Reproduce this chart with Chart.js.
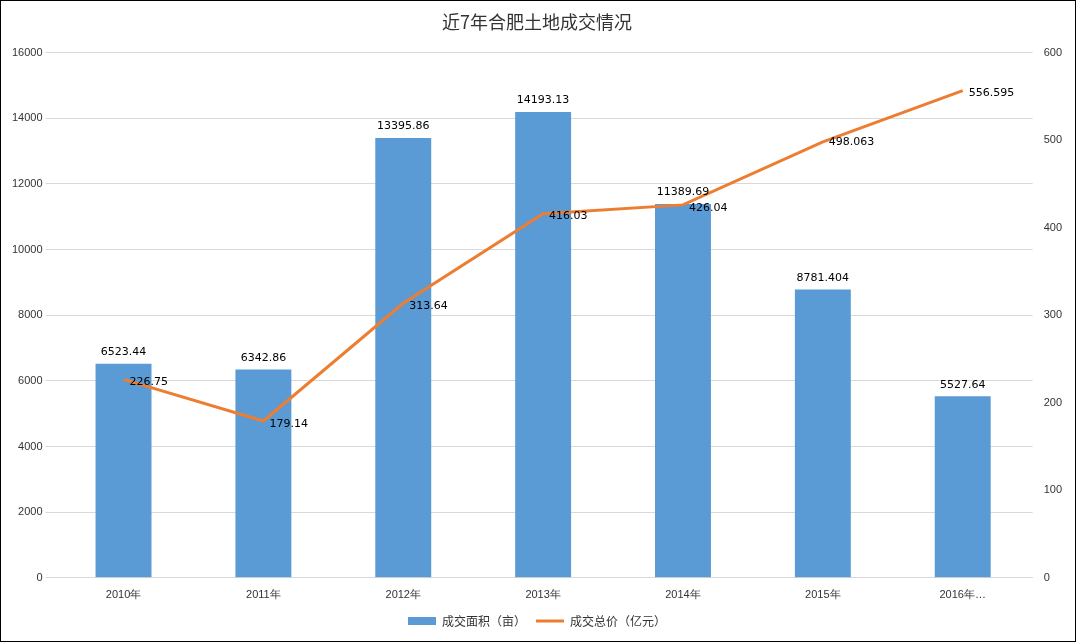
<!DOCTYPE html>
<html><head><meta charset="utf-8">
<script src="https://cdn.jsdelivr.net/npm/chart.js@4"></script>
<style>
body{margin:0;background:#fff}
#box{position:absolute;left:0;top:0;width:1074px;height:640px;border:1px solid #000;}
</style></head>
<body><div id="box"><canvas id="myChart" width="1074" height="640"></canvas></div>
<script>
var years = ["2010年","2011年","2012年","2013年","2014年","2015年","2016年…"];
var area = [6523.44, 6342.86, 13395.86, 14193.13, 11389.69, 8781.404, 5527.64];
var areaText = ["6523.44","6342.86","13395.86","14193.13","11389.69","8781.404","5527.64"];
var price = [226.75, 179.14, 313.64, 416.03, 426.04, 498.063, 556.595];
var priceText = ["226.75","179.14","313.64","416.03","426.04","498.063","556.595"];

var labelPlugin = {
  id: 'labels',
  afterDatasetsDraw: function(chart){
    var c = chart.ctx;
    c.save();
    c.font = '11px "DejaVu Sans", sans-serif';
    c.fillStyle = '#000';
    chart.getDatasetMeta(0).data.forEach(function(b, i){
      c.textAlign = 'center'; c.textBaseline = 'bottom';
      c.fillText(areaText[i], b.x, b.y - 6);
    });
    chart.getDatasetMeta(1).data.forEach(function(p, i){
      c.textAlign = 'left'; c.textBaseline = 'middle';
      c.fillText(priceText[i], p.x + 6, p.y + (i == 5 ? 0 : 3));
    });
    c.restore();
  }
};

new Chart(document.getElementById("myChart"), {
  type: 'bar',
  data: {
    labels: years,
    datasets: [{
      label: '成交面积（亩）',
      data: area,
      backgroundColor: '#5B9BD5',
      yAxisID: 'y',
      barPercentage: 0.4,
      categoryPercentage: 1,
      pointStyle: 'rect',
      order: 2
    },{
      type: 'line',
      label: '成交总价（亿元）',
      data: price,
      borderColor: '#ED7D31',
      backgroundColor: '#ED7D31',
      borderWidth: 3,
      pointRadius: 0,
      pointStyle: 'line',
      tension: 0,
      yAxisID: 'y1',
      order: 1
    }]
  },
  options: {
    responsive: false,
    animation: false,
    layout: {padding: {left: 8, right: 10, top: 4, bottom: 4}},
    plugins: {
      title: {display: true, text: '近7年合肥土地成交情况', color: '#333',
        font: {size: 18, family: '"Noto Sans CJK SC", sans-serif', weight: 'normal'}, padding: {top: 6, bottom: 20}},
      legend: {position: 'bottom', labels: {usePointStyle: true, pointStyleWidth: 28, boxHeight: 8, color: '#333',
        sort: function(a, b){ return a.datasetIndex - b.datasetIndex; },
        font: {size: 12, family: '"Noto Sans CJK SC", sans-serif'}}},
      tooltip: {enabled: false}
    },
    scales: {
      x: {grid: {display: false}, border: {color: '#d9d9d9'},
        ticks: {color: '#333', font: {size: 11}}},
      y: {position: 'left', min: 0, max: 16000,
        ticks: {stepSize: 2000, color: '#333', font: {size: 11}, callback: function(v){ return String(v); }},
        grid: {color: '#d9d9d9'}, border: {display: false}},
      y1: {position: 'right', min: 0, max: 600,
        ticks: {stepSize: 100, color: '#333', font: {size: 11}},
        grid: {display: false}, border: {display: false}}
    }
  },
  plugins: [labelPlugin]
});
</script></body></html>
